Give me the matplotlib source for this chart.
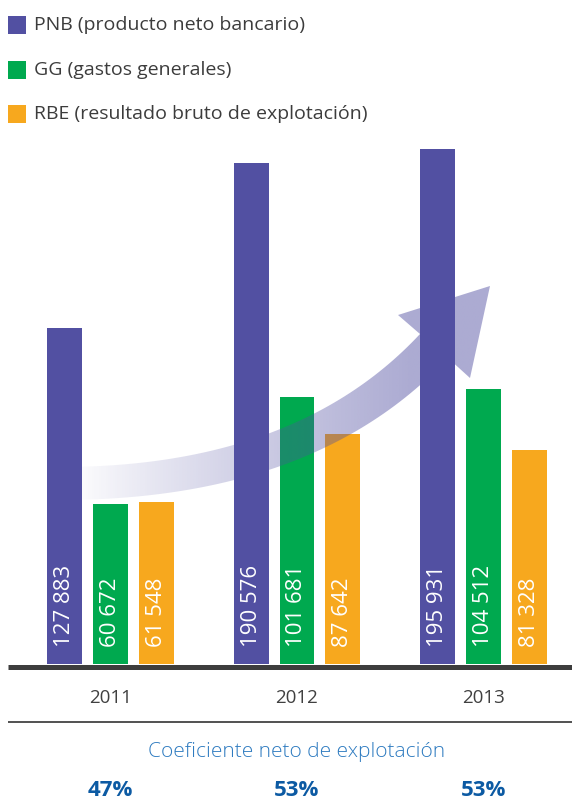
import matplotlib
matplotlib.use("Agg")
import matplotlib.pyplot as plt
import numpy as np
from matplotlib.transforms import Affine2D, blended_transform_factory
from matplotlib.patches import Rectangle, PathPatch
from matplotlib.path import Path
from matplotlib.lines import Line2D

# ---------------- data ----------------
years = ["2011", "2012", "2013"]
pnb = [127883, 190576, 195931]
gg = [60672, 101681, 104512]
rbe = [61548, 87642, 81328]
coef_labels = ["47%", "53%", "53%"]
series_names = ["PNB (producto neto bancario)",
                "GG (gastos generales)",
                "RBE (resultado bruto de explotación)"]
coef_title = "Coeficiente neto de explotación"

colors = ["#5250a2", "#00a94f", "#f7a81e"]
FONT = ["Open Sans", "DejaVu Sans"]
plt.rcParams["font.family"] = FONT

W, H = 572, 801
fig = plt.figure(figsize=(W / 100, H / 100), dpi=100)
px = Affine2D().scale(1 / W, -1 / H).translate(0, 1) + fig.transFigure

# main axes (pixel box: left 8, right 572, bottom 664, top 140)
ax = fig.add_axes([8 / W, 1 - 664 / H, (572 - 8) / W, (664 - 140) / H])
ax.axis("off")

x = np.arange(len(years))
step = 187.0
off = 46 / step
bw = 35 / step

b_pnb = ax.bar(x - off, pnb, bw, color=colors[0], zorder=4)
b_gg = ax.bar(x, gg, bw, color=colors[1], zorder=2)
b_rbe = ax.bar(x + off, rbe, bw, color=colors[2], zorder=2)

def fmt(v):
    return f"{v:,}".replace(",", " ")

for bars, vals in ((b_pnb, pnb), (b_gg, gg), (b_rbe, rbe)):
    for rect, v in zip(bars, vals):
        ax.annotate(fmt(v), (rect.get_x() + rect.get_width() / 2, 0),
                    xytext=(0, 12), textcoords="offset points",
                    rotation=90, ha="center", va="bottom",
                    color="white", fontsize=16, zorder=6)

# ---------------- curved arrow (decorative) ----------------
def qbez(p0, c, p2, n=60):
    t = np.linspace(0, 1, n)[:, None]
    return (1 - t) ** 2 * np.array(p0) + 2 * t * (1 - t) * np.array(c) + t ** 2 * np.array(p2)

top = qbez((60, 467), (296, 467), (420, 334))
bot = qbez((60, 500), (315, 500), (448, 358))
verts = np.vstack([top, [[398, 315]], [[490, 286]], [[470, 378]], bot[::-1], top[:1]])
codes = [Path.MOVETO] + [Path.LINETO] * (len(verts) - 2) + [Path.CLOSEPOLY]
arrow_path = Path(verts, codes)
patch = PathPatch(arrow_path, transform=px, facecolor="none", edgecolor="none")
ax.add_patch(patch)

xs = np.linspace(60, 500, 400)
alpha = np.clip(0.48 * np.clip((xs - 72) / (410 - 72), 0, 1) ** 0.85, 0, 0.48)
base = np.array(matplotlib.colors.to_rgb(colors[0]))
img = np.zeros((2, len(xs), 4))
img[..., :3] = base
img[..., 3] = alpha
im = ax.imshow(img, extent=(60, 500, 500, 280), transform=px,
               aspect="auto", interpolation="bilinear", zorder=3)
im.set_clip_path(patch)
ax.set_xlim(-(110.5 - 8) / step, 2 + (572 - 483.5) / step)
ax.set_ylim(0, 199240)

# baseline and separator
fig.add_artist(Line2D([8, 572], [666.5, 666.5], transform=px,
                      color="#3d3d3d", lw=5 * 0.72, solid_capstyle="butt"))
fig.add_artist(Line2D([8, 572], [722, 722], transform=px,
                      color="#333333", lw=1.2, solid_capstyle="butt"))

# ---------------- legend ----------------
leg_y = [25, 70, 114]
for name, c, yy in zip(series_names, colors, leg_y):
    fig.add_artist(Rectangle((8, yy - 9), 18, 18, transform=px,
                             facecolor=c, edgecolor="none"))
    fig.text(34, yy, name, transform=px, ha="left", va="center",
             fontsize=14, color="#3c3c3c")

# ---------------- year labels & coefficient ----------------
bt = blended_transform_factory(ax.transData, px)
for xi, yr, cl in zip(x, years, coef_labels):
    fig.text(xi, 698, yr, transform=bt, ha="center", va="center",
             fontsize=13.5, color="#404040")
    fig.text(xi, 790, cl, transform=bt, ha="center", va="center",
             fontsize=16, fontweight="bold", color="#0c5aa3")

fig.text(x[1], 752, coef_title, transform=bt, ha="center", va="center",
         fontsize=15, fontweight="light", color="#2e7bc0")

fig.savefig("out.png", dpi=100)
